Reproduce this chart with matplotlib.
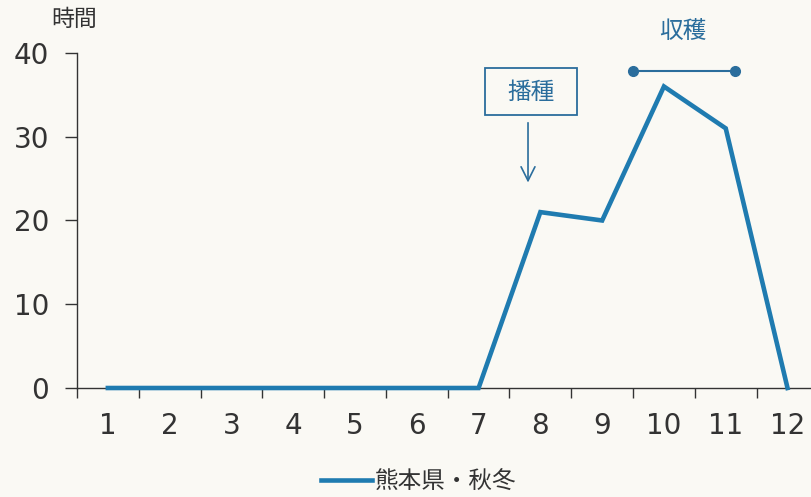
import matplotlib.pyplot as plt
from matplotlib.patches import FancyBboxPatch

plt.rcParams['font.family'] = ['DejaVu Sans', 'Noto Sans CJK JP']

months = [1, 2, 3, 4, 5, 6, 7, 8, 9, 10, 11, 12]
month_labels = [str(m) for m in months]
hours = [0, 0, 0, 0, 0, 0, 0, 21, 20, 36, 31, 0]
series_name = '熊本県・秋冬'
y_ticks = [0, 10, 20, 30, 40]

line_col = '#1f7bb0'
text_col = '#2a6d9c'
bg = '#faf9f4'

fig = plt.figure(figsize=(8.11, 4.97), dpi=100, facecolor=bg)
ax = fig.add_axes([0.0949, 0.2193, 0.9051, 0.6741], facecolor=bg)

ax.plot(months, hours, color=line_col, lw=3.3, solid_joinstyle='miter',
        label=series_name, clip_on=False, zorder=3)

ax.set_xlim(0.5, 12.38)
ax.set_ylim(0, 40)

# category ticks between months, labels at month centres
ax.set_xticks([m - 0.5 for m in months])
ax.set_xticklabels([])
ax.set_xticks(months, minor=True)
ax.set_xticklabels(month_labels, minor=True)
ax.tick_params(axis='x', which='major', direction='out', length=7, width=1, color='#333')
ax.tick_params(axis='x', which='minor', length=0, pad=17, labelsize=20, labelcolor='#333')

ax.set_yticks(y_ticks)
ax.tick_params(axis='y', direction='out', length=9, width=1, color='#333', pad=11,
               labelsize=20, labelcolor='#333')

for s in ['top', 'right']:
    ax.spines[s].set_visible(False)
for s in ['left', 'bottom']:
    ax.spines[s].set_color('#333')
    ax.spines[s].set_linewidth(1)

fig.text(0.063, 0.960, '時間', fontsize=16.5, color='#333', va='center', ha='left')

# 播種 box and arrow
box = FancyBboxPatch((7.1, 32.6), 1.5, 5.6, boxstyle='square,pad=0', fill=False,
                     ec=text_col, lw=1.3, clip_on=False)
ax.add_patch(box)
ax.text(7.85, 35.4, '播種', fontsize=17, color=text_col, ha='center', va='center')
ax.annotate('', xy=(7.8, 24.2), xytext=(7.8, 32.0),
            arrowprops=dict(arrowstyle='->', color=text_col, lw=1.2,
                            mutation_scale=25))

# 収穫 span
ax.plot([9.5, 11.15], [37.85, 37.85], color=text_col, lw=1.5, marker='o',
        markersize=7, clip_on=False)
ax.text(10.3, 42.6, '収穫', fontsize=17, color=text_col, ha='center', va='center',
        clip_on=False)

fig.legend(loc='center', bbox_to_anchor=(0.516, 0.032), frameon=False, fontsize=17,
           handlelength=2.2, handletextpad=0.1, labelcolor='#333')

fig.savefig('out.png', dpi=100, facecolor=bg)
